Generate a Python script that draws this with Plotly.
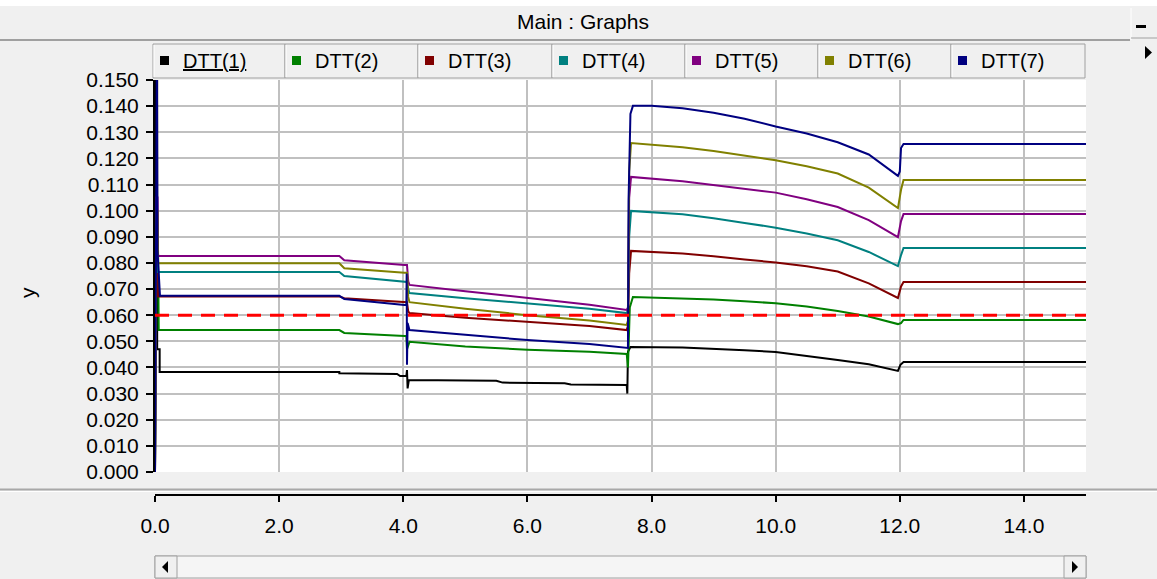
import plotly.graph_objects as go

W, H = 1157, 579

# ---------------- data ----------------
series_names = ["DTT(1)", "DTT(2)", "DTT(3)", "DTT(4)", "DTT(5)", "DTT(6)", "DTT(7)"]
series_colors = ["#000000", "#008000", "#800000", "#008080", "#800080", "#808000", "#000080"]

dtt1_x = [0.0, 0.0, 0.035, 0.035, 0.075, 0.075, 2.97, 2.97, 3.9, 3.95, 4.05, 4.06, 4.07, 4.09,
          5.5, 5.6, 6.6, 6.7, 7.6, 7.61, 7.62, 7.66, 8.5, 9.0, 9.5, 10.0, 10.5, 11.0, 11.5, 11.97, 12.01, 12.06, 15.0]
dtt1_y = [0.0, 0.16, 0.16, 0.047, 0.047, 0.0383, 0.0383, 0.0378, 0.0375, 0.0367, 0.0367, 0.039, 0.032, 0.0352,
          0.0349, 0.0342, 0.0340, 0.0335, 0.0333, 0.030, 0.046, 0.0478, 0.0476, 0.0472, 0.0466, 0.0459, 0.0445, 0.0429, 0.0412, 0.0387, 0.041, 0.0421, 0.0421]

dtt2_x = [0.0, 0.02, 0.05, 0.06, 2.97, 3.05, 4.02, 4.05, 4.06, 4.1, 5.0, 6.0, 7.0, 7.6, 7.62, 7.65, 7.7,
          8.5, 9.0, 9.5, 10.0, 10.5, 11.0, 11.5, 11.97, 12.02, 12.06, 15.0]
dtt2_y = [0.0, 0.083, 0.083, 0.0543, 0.0543, 0.0532, 0.052, 0.052, 0.047, 0.0498, 0.048, 0.0468, 0.046, 0.0452, 0.040, 0.063, 0.0670,
          0.0665, 0.0660, 0.0653, 0.0646, 0.0633, 0.0616, 0.0595, 0.0566, 0.057, 0.0582, 0.0582]

dtt3_x = [0.0, 0.02, 0.05, 2.97, 3.05, 4.02, 4.06, 4.08, 4.1, 5.0, 6.0, 7.0, 7.6, 7.62, 7.64, 7.67,
          8.5, 9.0, 9.5, 10.0, 10.5, 11.0, 11.5, 11.97, 12.02, 12.06, 15.0]
dtt3_y = [0.0, 0.084, 0.0672, 0.0672, 0.0665, 0.065, 0.065, 0.0615, 0.0608, 0.059, 0.0574, 0.0559, 0.0543, 0.056, 0.076, 0.0846,
          0.0836, 0.0826, 0.0813, 0.0802, 0.0787, 0.0767, 0.0722, 0.0666, 0.071, 0.0727, 0.0727]

dtt4_x = [0.0, 0.02, 0.05, 2.97, 3.05, 4.02, 4.06, 4.08, 4.1, 5.0, 6.0, 7.0, 7.6, 7.62, 7.64, 7.67,
          8.5, 9.0, 9.5, 10.0, 10.5, 11.0, 11.5, 11.97, 12.02, 12.06, 15.0]
dtt4_y = [0.0, 0.083, 0.0765, 0.0765, 0.075, 0.0727, 0.0727, 0.070, 0.0685, 0.0665, 0.0645, 0.0625, 0.0608, 0.062, 0.090, 0.0999,
          0.0986, 0.0971, 0.0953, 0.0935, 0.0913, 0.0887, 0.0842, 0.0788, 0.083, 0.0857, 0.0857]

dtt5_x = [0.0, 0.02, 0.04, 0.05, 2.97, 3.05, 4.02, 4.06, 4.08, 4.1, 5.0, 6.0, 7.0, 7.6, 7.62, 7.64, 7.67,
          8.5, 9.0, 9.5, 10.0, 10.5, 11.0, 11.5, 11.97, 12.02, 12.06, 15.0]
dtt5_y = [0.0, 0.105, 0.105, 0.0827, 0.0827, 0.081, 0.0792, 0.0792, 0.073, 0.0716, 0.0692, 0.0665, 0.064, 0.062, 0.063, 0.105, 0.1129,
          0.1113, 0.1099, 0.1083, 0.1069, 0.1044, 0.1014, 0.0964, 0.0899, 0.096, 0.0987, 0.0987]

dtt6_x = [0.0, 0.02, 0.04, 0.05, 2.97, 3.05, 4.02, 4.06, 4.08, 4.1, 5.0, 6.0, 7.0, 7.6, 7.62, 7.64, 7.67,
          8.5, 9.0, 9.5, 10.0, 10.5, 11.0, 11.5, 11.97, 12.02, 12.06, 15.0]
dtt6_y = [0.0, 0.100, 0.100, 0.0799, 0.0799, 0.078, 0.0762, 0.0762, 0.067, 0.065, 0.0625, 0.0600, 0.058, 0.0563, 0.058, 0.115, 0.1259,
          0.1243, 0.1228, 0.1210, 0.1193, 0.1170, 0.1142, 0.1088, 0.1010, 0.108, 0.1117, 0.1117]

dtt7_x = [0.0, 0.03, 0.04, 0.08, 2.97, 3.05, 4.02, 4.05, 4.055, 4.06, 4.07, 4.1, 5.0, 6.0, 7.0, 7.6, 7.62, 7.63, 7.66, 7.7,
          8.0, 8.5, 9.0, 9.5, 10.0, 10.5, 11.0, 11.5, 11.97, 12.0, 12.02, 12.06, 15.0]
dtt7_y = [0.0, 0.16, 0.085, 0.0674, 0.0674, 0.0662, 0.0639, 0.0639, 0.076, 0.041, 0.057, 0.0543, 0.0525, 0.0505, 0.049, 0.0475, 0.0475, 0.104, 0.137, 0.1401,
          0.1401, 0.1392, 0.1375, 0.1352, 0.1322, 0.1295, 0.1262, 0.1215, 0.1133, 0.115, 0.124, 0.1255, 0.1255]

series_x = [dtt1_x, dtt2_x, dtt3_x, dtt4_x, dtt5_x, dtt6_x, dtt7_x]
series_y = [dtt1_y, dtt2_y, dtt3_y, dtt4_y, dtt5_y, dtt6_y, dtt7_y]

limit_x = [0.0, 15.0]
limit_y = [0.060, 0.060]

x_tick_vals = [0, 2, 4, 6, 8, 10, 12, 14]
x_tick_text = ["0.0", "2.0", "4.0", "6.0", "8.0", "10.0", "12.0", "14.0"]
y_tick_vals = [i / 100 for i in range(16)]
y_tick_text = ["%.3f" % v for v in y_tick_vals]

title_text = "Main : Graphs"
y_title = "y"

# ---------------- helpers ----------------
def px(x):
    return x / W

def py(y):
    return 1 - y / H

FONT = "Arial, Liberation Sans, sans-serif"
GRID = "#c0c0c0"
BORDER = "#a0a0a0"

fig = go.Figure()
for name, color, xs, ys in zip(series_names, series_colors, series_x, series_y):
    fig.add_trace(go.Scatter(x=xs, y=ys, mode="lines", name=name, showlegend=False,
                             line=dict(color=color, width=2)))
fig.add_trace(go.Scatter(x=limit_x, y=limit_y, mode="lines", showlegend=False, name="limit",
                         line=dict(color="#ff0000", width=3, dash="14px,9px")))

shapes = []
annotations = []

# top white strip and title bar
shapes.append(dict(type="rect", xref="paper", yref="paper", x0=0, x1=1, y0=py(6), y1=1,
                   fillcolor="#ffffff", line=dict(width=0), layer="below"))
shapes.append(dict(type="line", xref="paper", yref="paper", x0=0, x1=px(1130), y0=py(40), y1=py(40),
                   line=dict(color=BORDER, width=2)))
shapes.append(dict(type="line", xref="paper", yref="paper", x0=px(1131), x1=px(1131), y0=py(8), y1=py(40),
                   line=dict(color="#ffffff", width=1)))
shapes.append(dict(type="line", xref="paper", yref="paper", x0=px(1131), x1=1, y0=py(38), y1=py(38),
                   line=dict(color=BORDER, width=1)))
annotations.append(dict(text=title_text, xref="paper", yref="paper", x=px(583), y=py(22),
                        showarrow=False, xanchor="center", yanchor="middle",
                        font=dict(family=FONT, size=21, color="#000000")))
# minus button glyph
shapes.append(dict(type="rect", xref="paper", yref="paper", x0=px(1136), x1=px(1146), y0=py(28), y1=py(25),
                   fillcolor="#000000", line=dict(width=0)))
# small arrow at right of tabs
shapes.append(dict(type="path", xref="paper", yref="paper",
                   path=f"M {px(1145)} {py(46)} L {px(1152)} {py(52.5)} L {px(1145)} {py(59)} Z",
                   fillcolor="#000000", line=dict(width=0)))

# legend tabs
tab_edges = [153, 285, 418, 552, 685, 818, 951, 1085]
for i, name in enumerate(series_names):
    l, r = tab_edges[i], tab_edges[i + 1]
    shapes.append(dict(type="rect", xref="paper", yref="paper", x0=px(l), x1=px(r), y0=py(78), y1=py(44),
                       fillcolor="#f0f0f0", line=dict(color=BORDER, width=1), layer="below"))
    shapes.append(dict(type="line", xref="paper", yref="paper", x0=px(l + 1), x1=px(l + 1), y0=py(77), y1=py(45),
                       line=dict(color="#ffffff", width=1)))
    shapes.append(dict(type="rect", xref="paper", yref="paper", x0=px(l + 7), x1=px(l + 16), y0=py(65), y1=py(56),
                       fillcolor=series_colors[i], line=dict(width=0)))
    txt = f"<u>{name}</u>" if i == 0 else name
    annotations.append(dict(text=txt, xref="paper", yref="paper", x=px(l + 28), y=py(61),
                            showarrow=False, xanchor="left", yanchor="middle",
                            font=dict(family=FONT, size=20, color="#000000")))

# y-axis title
annotations.append(dict(text=y_title, xref="paper", yref="paper", x=px(28), y=py(293),
                        showarrow=False, xanchor="center", yanchor="middle", textangle=-90,
                        font=dict(family=FONT, size=21, color="#000000")))

# separator above x axis panel
shapes.append(dict(type="line", xref="paper", yref="paper", x0=0, x1=1, y0=py(489.5), y1=py(489.5),
                   line=dict(color="#a8a8a8", width=2)))
shapes.append(dict(type="line", xref="paper", yref="paper", x0=0, x1=1, y0=py(491.5), y1=py(491.5),
                   line=dict(color="#ffffff", width=1)))

# scrollbar
shapes.append(dict(type="rect", xref="paper", yref="paper", x0=px(155), x1=px(1086), y0=py(578), y1=py(556),
                   fillcolor="#f5f5f5", line=dict(color=BORDER, width=1)))
shapes.append(dict(type="rect", xref="paper", yref="paper", x0=px(155), x1=px(177), y0=py(578), y1=py(556),
                   fillcolor="#f0f0f0", line=dict(color=BORDER, width=1)))
shapes.append(dict(type="rect", xref="paper", yref="paper", x0=px(1064), x1=px(1086), y0=py(578), y1=py(556),
                   fillcolor="#f0f0f0", line=dict(color=BORDER, width=1)))
shapes.append(dict(type="path", xref="paper", yref="paper",
                   path=f"M {px(168)} {py(561)} L {px(162)} {py(567)} L {px(168)} {py(573)} Z",
                   fillcolor="#000000", line=dict(width=0)))
shapes.append(dict(type="path", xref="paper", yref="paper",
                   path=f"M {px(1072)} {py(561)} L {px(1078)} {py(567)} L {px(1072)} {py(573)} Z",
                   fillcolor="#000000", line=dict(width=0)))

fig.update_layout(
    width=W, height=H, autosize=False,
    margin=dict(l=0, r=0, t=0, b=0, pad=0, autoexpand=False),
    paper_bgcolor="#f0f0f0", plot_bgcolor="#ffffff",
    showlegend=False,
    shapes=shapes, annotations=annotations,
    xaxis=dict(domain=[px(155), px(1086)], range=[0, 15], anchor="free", position=py(495),
               automargin=False,
               tickmode="array", tickvals=x_tick_vals, ticktext=x_tick_text,
               showgrid=True, gridcolor=GRID, gridwidth=2, zeroline=False,
               showline=True, linecolor="#000000", linewidth=2,
               ticks="outside", ticklen=6, tickwidth=2, tickcolor="#000000",
               ticklabelstandoff=6,
               tickfont=dict(family=FONT, size=21, color="#000000")),
    yaxis=dict(domain=[py(472), py(80)], range=[0, 0.15], anchor="x",
               automargin=False,
               tickmode="array", tickvals=y_tick_vals, ticktext=y_tick_text,
               showgrid=True, gridcolor=GRID, gridwidth=2, zeroline=False,
               showline=True, linecolor="#000000", linewidth=2,
               ticks="outside", ticklen=7, tickwidth=2, tickcolor="#000000",
               ticklabelstandoff=3,
               tickfont=dict(family=FONT, size=21, color="#000000")),
)

fig.write_html("out.html")
